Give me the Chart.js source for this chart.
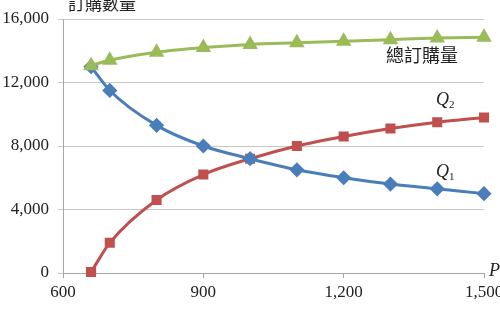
<!DOCTYPE html>
<html><head><meta charset="utf-8">
<script src="https://cdn.jsdelivr.net/npm/chart.js@4"></script>
<style>html,body{margin:0;padding:0;background:#fff}#w{width:500px;height:316px}</style>
</head><body><div id="w"><canvas id="c" width="500" height="316"></canvas></div>
<script>
const prices = [660, 700, 800, 900, 1000, 1100, 1200, 1300, 1400, 1500];
const q1 = [13000, 11500, 9300, 8000, 7200, 6500, 6000, 5600, 5300, 5000];
const q2 = [60, 1900, 4600, 6200, 7200, 8000, 8600, 9100, 9500, 9800];
const total = [13060, 13400, 13900, 14200, 14400, 14500, 14600, 14700, 14800, 14850];
const yTicks = [0, 4000, 8000, 12000, 16000];
const xTicks = [600, 900, 1200, 1500];
const labels = { title: '訂購數量', total: '總訂購量', q1: 'Q', q2: 'Q', p: 'P' };

const serif = '"Liberation Serif", "Times New Roman", serif';
const cjk = '"Noto Sans CJK TC", "Noto Sans CJK SC", sans-serif';
const pts = a => prices.map((x, i) => ({ x, y: a[i] }));

const textPlugin = {
  id: 'texts',
  afterDraw(chart) {
    const ctx = chart.ctx;
    ctx.save();
    ctx.fillStyle = '#222';
    ctx.textBaseline = 'middle';
    ctx.font = '17px ' + cjk;
    ctx.fillText(labels.title, 68, 4);
    ctx.font = '18px ' + cjk;
    ctx.fillText(labels.total, 386, 55);
    const sub = (base, s, x, y) => {
      ctx.font = 'italic 18px ' + serif;
      ctx.fillText(base, x, y);
      const w = ctx.measureText(base).width;
      ctx.font = '11px ' + serif;
      ctx.fillText(s, x + w, y + 5);
    };
    sub(labels.q2, '2', 436, 100);
    sub(labels.q1, '1', 436, 172);
    sub(labels.p, '', 489, 271);
    ctx.restore();
  }
};

new Chart(document.getElementById('c'), {
  type: 'line',
  data: {
    datasets: [
      { data: pts(total), borderColor: '#9BBB59', backgroundColor: '#9BBB59', pointStyle: 'triangle', pointRadius: 6, borderWidth: 3, cubicInterpolationMode: 'monotone', clip: false },
      { data: pts(q1), borderColor: '#4A7EBB', backgroundColor: '#4A7EBB', pointStyle: 'rectRot', pointRadius: 5.5, borderWidth: 3, cubicInterpolationMode: 'monotone', clip: false },
      { data: pts(q2), borderColor: '#C0504D', backgroundColor: '#C0504D', pointStyle: 'rect', pointRadius: 5, borderWidth: 3, cubicInterpolationMode: 'monotone', clip: false }
    ]
  },
  options: {
    responsive: false,
    animation: false,
    events: [],
    layout: { padding: { top: 19, right: 16, left: 0, bottom: 0 } },
    plugins: { legend: { display: false }, tooltip: { enabled: false } },
    scales: {
      x: {
        type: 'linear', min: 600, max: 1500,
        afterBuildTicks: s => { s.ticks = xTicks.map(v => ({ value: v })); },
        afterFit: s => { s.height = 43; s.paddingRight = 0; s.paddingLeft = 0; },
        ticks: { color: '#222', font: { family: serif, size: 17 }, padding: 4, maxRotation: 0,
          callback: v => v.toLocaleString('en-US') },
        grid: { drawOnChartArea: false, color: '#a6a6a6', tickLength: 5 },
        border: { color: '#a6a6a6', width: 1 }
      },
      y: {
        min: 0, max: 16000,
        afterBuildTicks: s => { s.ticks = yTicks.map(v => ({ value: v })); },
        afterFit: s => { s.width = 63; s.paddingTop = 0; s.paddingBottom = 0; },
        ticks: { color: '#222', font: { family: serif, size: 17 }, padding: 9,
          callback: v => v.toLocaleString('en-US') },
        grid: { color: '#c8c8c8', tickLength: 5 },
        border: { color: '#a6a6a6', width: 1 }
      }
    }
  },
  plugins: [textPlugin]
});
</script>
</body></html>
